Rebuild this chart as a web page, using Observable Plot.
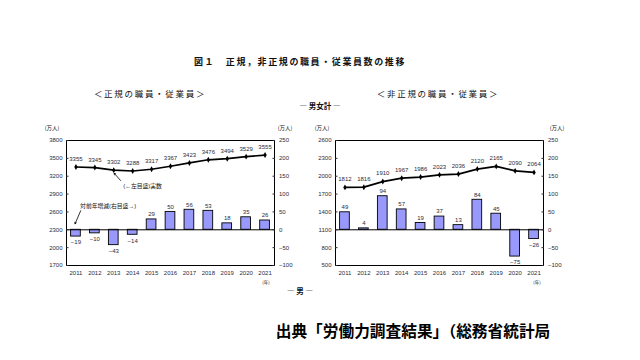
<!DOCTYPE html>
<html><head><meta charset="utf-8">
<script src="https://cdn.jsdelivr.net/npm/d3@7"></script>
<script src="https://cdn.jsdelivr.net/npm/@observablehq/plot@0.6"></script>
<style>
body{margin:0;background:#fff;width:640px;height:360px;position:relative;overflow:hidden;font-family:"Noto Sans CJK JP","Liberation Sans",sans-serif;}
.t{position:absolute;white-space:nowrap;color:#111;line-height:1;transform:translate(-50%,-50%);}
.c{position:absolute;}
</style></head><body>
<script>
const years = [2011, 2012, 2013, 2014, 2015, 2016, 2017, 2018, 2019, 2020, 2021];
const regularTotal = [3355, 3345, 3302, 3288, 3317, 3367, 3423, 3476, 3494, 3529, 3555];
const regularChange = [-19, -10, -43, -14, 29, 50, 56, 53, 18, 35, 26];
const nonRegularTotal = [1812, 1816, 1910, 1967, 1986, 2023, 2036, 2120, 2165, 2090, 2064];
const nonRegularChange = [49, 4, 94, 57, 19, 37, 13, 84, 45, -75, -26];
const regularTicks = [1700, 2000, 2300, 2600, 2900, 3200, 3500, 3800];
const nonRegularTicks = [500, 800, 1100, 1400, 1700, 2000, 2300, 2600];
const changeTicks = [-100, -50, 0, 50, 100, 150, 200, 250];

const FONT = '"Liberation Sans","Noto Sans CJK JP",sans-serif';
const minus = v => (v < 0 ? "−" + Math.abs(v) : String(v));

function text(str, x, y, size, extra = "") {
  const d = document.createElement("div");
  d.className = "t";
  d.style.cssText = `left:${x}px;top:${y}px;font-size:${size}px;${extra}`;
  d.textContent = str;
  document.body.appendChild(d);
}

function chart(totals, changes, leftTicks, ann) {
  const lo = leftTicks[0], hi = leftTicks[leftTicks.length - 1];
  const k = (hi - lo) / (changeTicks[changeTicks.length - 1] - changeTicks[0]);
  const base = lo - changeTicks[0] * k;
  const data = years.map((year, i) => ({year, total: totals[i], change: changes[i], v: base + changes[i] * k}));
  return Plot.plot({
    width: 280, height: 165,
    marginLeft: 36, marginRight: 36, marginTop: 20, marginBottom: 20,
    style: {fontFamily: FONT, fontSize: "6px", color: "#2a2a3a", background: "transparent"},
    x: {type: "linear", domain: [2010.5, 2021.5]},
    y: {domain: [lo, hi]},
    marks: [
      Plot.rectY(data, {x1: d => d.year - 0.5, x2: d => d.year + 0.5, y1: () => base, y2: "v",
        insetLeft: 4.6, insetRight: 4.6, fill: "#9999fc", stroke: "#000", strokeWidth: 0.9}),
      Plot.ruleY([base], {stroke: "#000", strokeWidth: 1}),
      Plot.frame({stroke: "#000", strokeWidth: 1}),
      Plot.line(data, {x: "year", y: "total", stroke: "#000", strokeWidth: 1.7}),
      Plot.dot(data, {x: "year", y: "total", symbol: "diamond", r: 1.8, fill: "#000"}),
      Plot.text(data, {x: "year", y: "total", text: d => String(d.total), dy: -8, fontSize: 6, fill: "#2a2a3a"}),
      Plot.text(data.filter(d => d.change >= 0), {x: "year", y: "v", text: d => minus(d.change), dy: -5, fontSize: 6, fill: "#2a2a3a"}),
      Plot.text(data.filter(d => d.change < 0), {x: "year", y: "v", text: d => minus(d.change), dy: 6, fontSize: 6, fill: "#2a2a3a"}),
      ...ann,
      Plot.axisY({anchor: "left", ticks: leftTicks, tickFormat: d => String(d), tickSize: -2.5, tickPadding: 6.5, label: null}),
      Plot.axisY({anchor: "right", ticks: changeTicks.map(v => base + v * k), tickFormat: d => minus(Math.round((d - base) / k)), tickSize: -2.5, tickPadding: 7, label: null}),
      Plot.axisX({ticks: years, tickFormat: d => String(d), tickSize: 0, tickPadding: 5, label: null})
    ]
  });
}

const regAnn = [
  Plot.arrow([0], {x1: () => 2013.36, y1: () => 3128, x2: () => 2013.02, y2: () => 3250, stroke: "#000", strokeWidth: 0.8, headLength: 3}),
  Plot.text(["(←左目盛)実数"], {x: () => 2013.5, y: () => 3040, text: d => d, textAnchor: "start", fontSize: 5.8, fill: "#111"}),
  Plot.text(["対前年増減(右目盛→)"], {x: () => 2011.22, y: () => 2700, text: d => d, textAnchor: "start", fontSize: 5.8, fill: "#111"}),
  Plot.arrow([0], {x1: () => 2011.25, y1: () => 2620, x2: () => 2010.95, y2: () => 2400, stroke: "#000", strokeWidth: 0.8, headLength: 3})
];

function place(svg, x, y) {
  const w = document.createElement("div");
  w.className = "c";
  w.style.left = x + "px"; w.style.top = y + "px";
  w.appendChild(svg);
  document.body.appendChild(w);
}

place(chart(regularTotal, regularChange, regularTicks, regAnn), 30, 120);
place(chart(nonRegularTotal, nonRegularChange, nonRegularTicks, []), 299, 120);

text("図１　正規，非正規の職員・従業員数の推移", 300, 61, 9, "font-weight:bold;letter-spacing:1.6px;");
text("＜正規の職員・従業員＞", 150, 93, 8.5, "letter-spacing:1.7px;");
text("＜非正規の職員・従業員＞", 438, 93, 8.5, "letter-spacing:1.7px;");
text("―  男女計  ―", 320, 106, 7.5, "font-weight:bold;");
text("(万人)", 52, 129, 5.5);
text("(万人)", 285, 129, 5.5);
text("(万人)", 322, 129, 5.5);
text("(万人)", 557, 129, 5.5);
text("(年)", 266, 282, 4.5);
text("(年)", 537, 282, 4.5);
text("―  男  ―", 300, 291, 7.5, "font-weight:bold;");
text("出典「労働力調査結果」（総務省統計局", 413, 331, 15.7, "font-weight:bold;color:#000;");
</script>
</body></html>
